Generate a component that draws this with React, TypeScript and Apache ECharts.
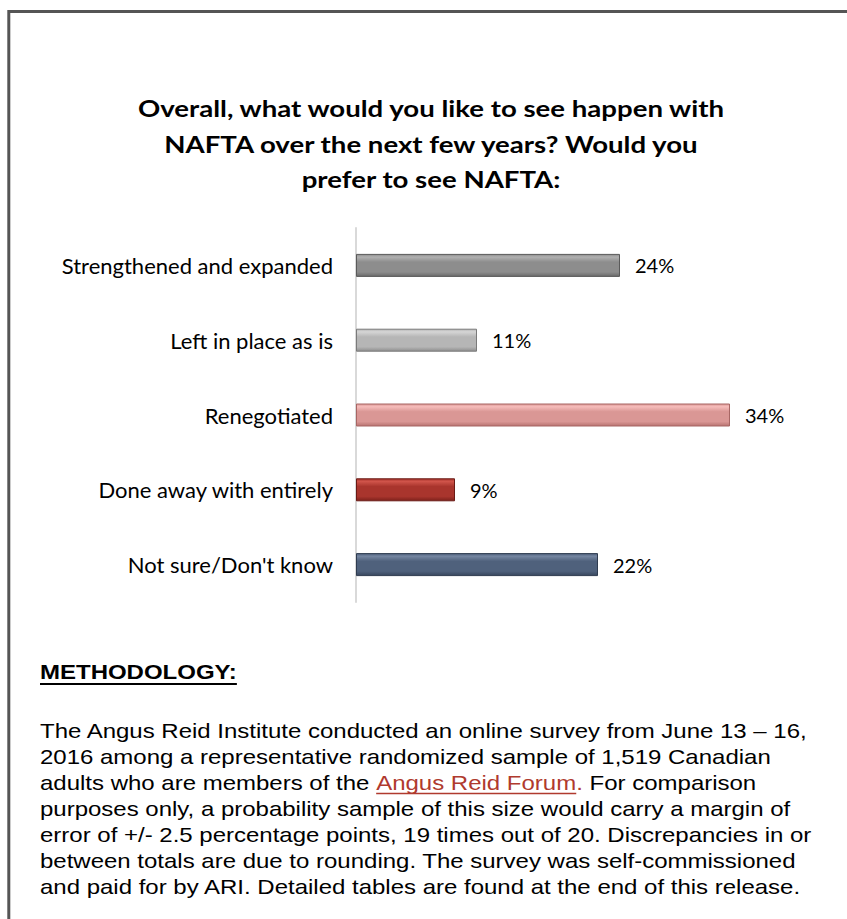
import React, { useEffect, useRef } from "react";
import * as echarts from "echarts";

const categories = [
  "Strengthened and expanded",
  "Left in place as is",
  "Renegotiated",
  "Done away with entirely",
  "Not sure/Don't know",
];
const values = [24, 11, 34, 9, 22];
// [top highlight, base, bottom shade, edge]
const barColors = [
  ["#b0b0b0", "#8d8d8d", "#6a6a6a", "#5a5a5a"],
  ["#d6d6d6", "#b6b6b6", "#8e8e8e", "#7a7a7a"],
  ["#f6bcba", "#da9795", "#b87371", "#a86664"],
  ["#d0544a", "#a9352d", "#7d211b", "#6a1a15"],
  ["#7586a1", "#4f617c", "#38475e", "#2f3c50"],
];
const titleLines = [
  "Overall, what would you like to see happen with",
  "NAFTA over the next few years? Would you",
  "prefer to see NAFTA:",
];
const methodologyHeading = "METHODOLOGY:";
const paragraphLines = [
  "The Angus Reid Institute conducted an online survey from June 13 \u2013 16,",
  "2016 among a representative randomized sample of 1,519 Canadian",
  "adults who are members of the |Angus Reid Forum.| For comparison",
  "purposes only, a probability sample of this size would carry a margin of",
  "error of +/- 2.5 percentage points, 19 times out of 20. Discrepancies in or",
  "between totals are due to rounding. The survey was self-commissioned",
  "and paid for by ARI. Detailed tables are found at the end of this release.",
];

const LABEL_FONT = "Lato, 'Noto Sans', sans-serif";
const ARIAL = "'Liberation Sans', Arial, sans-serif";
const SX = 1.2;

function measure(text: string, font: string): number {
  const c = document.createElement("canvas");
  const ctx = c.getContext("2d");
  if (!ctx) return text.length * 10;
  ctx.font = font;
  return ctx.measureText(text).width;
}

export default function App() {
  const ref = useRef<HTMLDivElement>(null);
  useEffect(() => {
    if (!ref.current) return;
    const chart = echarts.init(ref.current, undefined, { renderer: "svg" });

    const graphics: any[] = [];
    // frame
    graphics.push({
      type: "rect",
      shape: { x: 8.8, y: 11.5, width: 1000, height: 1100 },
      style: { fill: "none", stroke: "#555555", lineWidth: 3 },
      silent: true,
    });
    titleLines.forEach((t, i) => {
      graphics.push({
        type: "text",
        x: 431,
        y: 108 + i * 35.5,
        scaleX: SX,
        style: {
          text: t,
          font: `bold 23px ${LABEL_FONT}`,
          fill: "#000",
          textAlign: "center",
          textVerticalAlign: "middle",
        },
      });
    });
    // methodology heading
    const headFont = `bold 20px ${ARIAL}`;
    graphics.push({
      type: "text",
      x: 40,
      y: 672,
      scaleX: SX,
      style: { text: methodologyHeading, font: headFont, fill: "#000", textVerticalAlign: "middle" },
    });
    const hw = measure(methodologyHeading, headFont) * SX;
    graphics.push({
      type: "line",
      shape: { x1: 40, y1: 684, x2: 40 + hw, y2: 684 },
      style: { stroke: "#000", lineWidth: 2 },
    });
    const pFont = `20px ${ARIAL}`;
    paragraphLines.forEach((line, i) => {
      const y = 731 + i * 26;
      const parts = line.split("|");
      let x = 40;
      parts.forEach((p, j) => {
        const isLink = j === 1;
        graphics.push({
          type: "text",
          x,
          y,
          scaleX: SX,
          style: {
            text: p,
            font: pFont,
            fill: isLink ? "#b03a2e" : "#000",
            textVerticalAlign: "middle",
          },
        });
        const w = measure(p, pFont) * SX;
        if (isLink) {
          const trimmed = p.replace(/\.$/, "");
          const uw = measure(trimmed, pFont) * SX;
          graphics.push({
            type: "line",
            shape: { x1: x, y1: y + 10.5, x2: x + uw, y2: y + 10.5 },
            style: { stroke: "#b03a2e", lineWidth: 1.5 },
          });
        }
        x += w;
      });
    });

    chart.setOption({
      animation: false,
      backgroundColor: "#ffffff",
      grid: { left: 356, top: 228, width: 440, height: 374, containLabel: false },
      xAxis: {
        type: "value",
        min: 0,
        max: 40,
        show: false,
      },
      yAxis: {
        type: "category",
        data: categories,
        inverse: true,
        axisLine: { show: true, lineStyle: { color: "#d9d9d9", width: 2 } },
        axisTick: { show: false },
        splitLine: { show: false },
        axisLabel: {
          color: "#000",
          fontSize: 22,
          fontFamily: LABEL_FONT,
          margin: 23,
        },
      },
      series: [
        {
          type: "bar",
          barWidth: 23,
          data: values.map((v, i) => ({
            value: v,
            itemStyle: {
              color: new echarts.graphic.LinearGradient(0, 0, 0, 1, [
                { offset: 0, color: barColors[i][1] },
                { offset: 0.12, color: barColors[i][0] },
                { offset: 0.35, color: barColors[i][1] },
                { offset: 0.8, color: barColors[i][1] },
                { offset: 1, color: barColors[i][2] },
              ]),
              borderColor: barColors[i][3],
              borderWidth: 1,
            },
          })),
          label: {
            show: true,
            position: "right",
            distance: 15,
            formatter: "{c}%",
            color: "#000",
            fontSize: 20,
            fontFamily: LABEL_FONT,
          },
        },
      ],
      graphic: graphics,
    });
    return () => chart.dispose();
  }, []);
  return (
    <div
      ref={ref}
      style={{ position: "absolute", left: 0, top: 0, width: 847, height: 919, background: "#fff" }}
    />
  );
}
